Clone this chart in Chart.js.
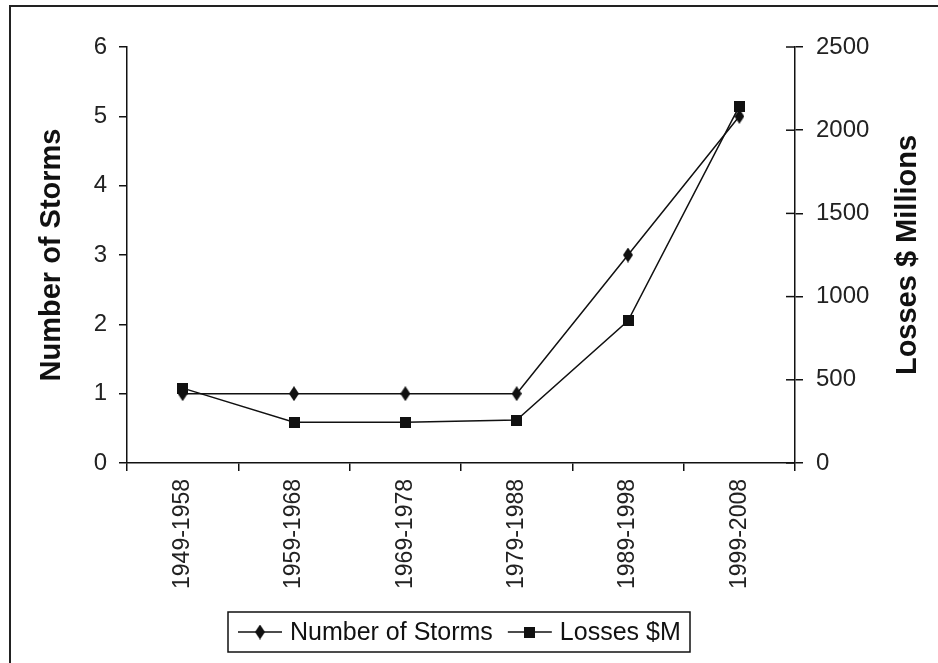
<!DOCTYPE html>
<html>
<head>
<meta charset="utf-8">
<script src="https://cdn.jsdelivr.net/npm/chart.js@4"></script>
<style>
  html, body { margin: 0; padding: 0; background: #fff; }
  #wrap { position: relative; width: 938px; height: 663px; overflow: hidden; }
  #frame { position: absolute; left: 9px; top: 5px; width: 940px; height: 670px;
           border-top: 2px solid #222; border-left: 2px solid #222; }
  canvas { position: absolute; left: 0; top: 0; }
</style>
</head>
<body>
<div id="wrap">
  <div id="frame"></div>
  <canvas id="stormChart" width="938" height="663"></canvas>
</div>
<script>
// Decades, storm counts and losses
const decades = ['1949-1958', '1959-1968', '1969-1978', '1979-1988', '1989-1998', '1999-2008'];
const storms = [1, 1, 1, 1, 3, 5];
const losses = [450, 245, 245, 258, 855, 2145];

const leftTitle = 'Number of Storms';
const rightTitle = 'Losses $ Millions';
const seriesNames = ['Number of Storms', 'Losses $M'];

const FONT = '"Liberation Sans", Arial, sans-serif';
const INK = '#111';

// marker images: tall diamond and square
function makeMarker(kind) {
    const c = document.createElement('canvas');
    const ctx = c.getContext('2d');
    if (kind === 'diamond') {
        c.width = 10; c.height = 15;
        ctx.fillStyle = INK;
        ctx.beginPath();
        ctx.moveTo(5, 0); ctx.lineTo(10, 7.5); ctx.lineTo(5, 15); ctx.lineTo(0, 7.5);
        ctx.closePath();
        ctx.fill();
    } else {
        c.width = 11; c.height = 11;
        ctx.fillStyle = INK;
        ctx.fillRect(0, 0, 11, 11);
    }
    return c;
}
const diamond = makeMarker('diamond');
const square = makeMarker('square');

// titles, legend box and inward ticks on the right axis
const extras = {
    id: 'extras',
    afterDraw(chart) {
        const ctx = chart.ctx;
        const area = chart.chartArea;
        const y1 = chart.scales.y1;
        ctx.save();
        ctx.strokeStyle = INK;
        ctx.lineWidth = 1.5;
        y1.ticks.forEach((t, i) => {
            const py = y1.getPixelForTick(i);
            ctx.beginPath();
            ctx.moveTo(area.right - 9, py);
            ctx.lineTo(area.right, py);
            ctx.stroke();
        });

        // axis titles, both reading bottom to top
        ctx.fillStyle = INK;
        ctx.font = 'bold 29px ' + FONT;
        ctx.textAlign = 'center';
        ctx.textBaseline = 'middle';
        const midY = (area.top + area.bottom) / 2;
        [[52, leftTitle], [908, rightTitle]].forEach(([x, txt]) => {
            ctx.save();
            ctx.translate(x, midY);
            ctx.rotate(-Math.PI / 2);
            ctx.fillText(txt, 0, 0);
            ctx.restore();
        });

        // legend
        const box = { left: 228, top: 612, right: 690, bottom: 652 };
        ctx.lineWidth = 1.5;
        ctx.strokeRect(box.left, box.top, box.right - box.left, box.bottom - box.top);
        ctx.font = '25px ' + FONT;
        ctx.textAlign = 'left';
        const cy = (box.top + box.bottom) / 2;
        let x = 238;
        [diamond, square].forEach((img, i) => {
            ctx.beginPath();
            ctx.moveTo(x, cy);
            ctx.lineTo(x + 44, cy);
            ctx.stroke();
            ctx.drawImage(img, x + 22 - img.width / 2, cy - img.height / 2);
            x += 52;
            ctx.fillText(seriesNames[i], x, cy + 1);
            x += ctx.measureText(seriesNames[i]).width + 15;
        });
        ctx.restore();
    }
};

const ctx = document.getElementById('stormChart').getContext('2d');
new Chart(ctx, {
    type: 'line',
    data: {
        labels: decades,
        datasets: [{
            label: seriesNames[0],
            data: storms,
            yAxisID: 'y',
            borderColor: INK,
            borderWidth: 1.5,
            pointStyle: diamond,
            fill: false,
            tension: 0
        }, {
            label: seriesNames[1],
            data: losses,
            yAxisID: 'y1',
            borderColor: INK,
            borderWidth: 1.5,
            pointStyle: square,
            fill: false,
            tension: 0
        }]
    },
    options: {
        responsive: false,
        animation: false,
        layout: { padding: { left: 0, right: 0, top: 47, bottom: 0 } },
        plugins: {
            legend: { display: false },
            tooltip: { enabled: false }
        },
        scales: {
            x: {
                offset: true,
                grid: { offset: true, drawOnChartArea: false, drawTicks: true, tickLength: 8, color: INK, lineWidth: 1.5 },
                border: { display: true, color: INK, width: 1.5 },
                ticks: { minRotation: 90, maxRotation: 90, padding: 8, color: '#222', font: { family: FONT, size: 23 } },
                afterFit(s) { s.height = 200; }
            },
            y: {
                position: 'left',
                min: 0, max: 6,
                ticks: { stepSize: 1, padding: 12, color: '#222', font: { family: FONT, size: 24 } },
                grid: { drawOnChartArea: false, tickLength: 8, color: INK, lineWidth: 1.5 },
                border: { display: true, color: INK, width: 1.5 },
                afterFit(s) { s.width = 127; }
            },
            y1: {
                position: 'right',
                min: 0, max: 2500,
                ticks: { stepSize: 500, padding: 13, color: '#222', font: { family: FONT, size: 24 },
                         callback: v => String(v) },
                grid: { drawOnChartArea: false, tickLength: 8, color: INK, lineWidth: 1.5 },
                border: { display: true, color: INK, width: 1.5 },
                afterFit(s) { s.width = 143; }
            }
        }
    },
    plugins: [extras]
});
</script>
</body>
</html>
